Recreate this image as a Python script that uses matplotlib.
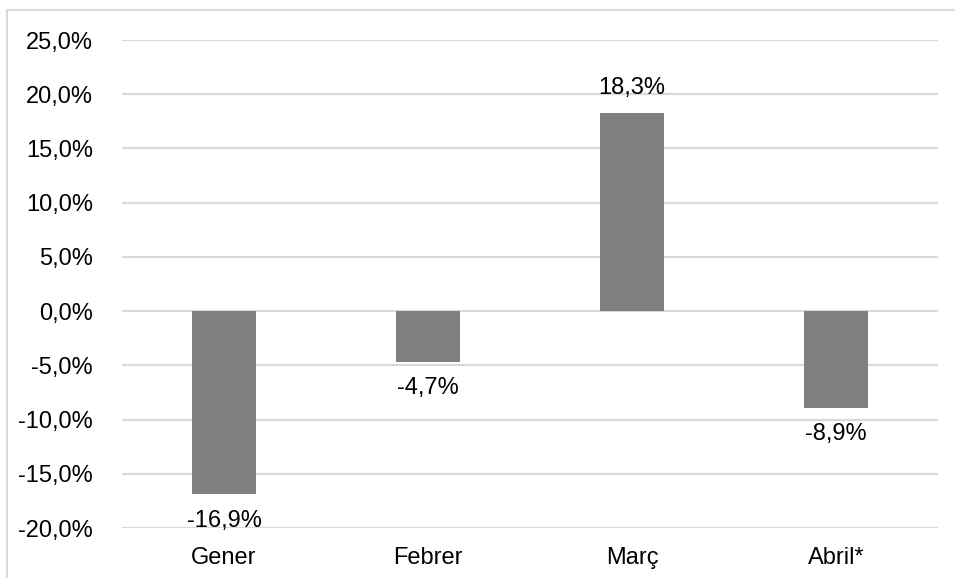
import matplotlib.pyplot as plt
from matplotlib.patches import Rectangle

plt.rcParams['font.family'] = ['Liberation Sans', 'DejaVu Sans']

months = ['Gener', 'Febrer', 'Març', 'Abril*']
changes = [-16.9, -4.7, 18.3, -8.9]
y_ticks = [-20, -15, -10, -5, 0, 5, 10, 15, 20, 25]


def fmt(v):
    return f'{v:.1f}%'.replace('.', ',')


fig = plt.figure(figsize=(9.55, 5.78), dpi=100)
ax = fig.add_axes([122 / 955, 1 - 528 / 578, 816 / 955, 488 / 578])

x = range(len(months))
ax.bar(x, changes, width=0.31, color='#808080', zorder=3)

for xi, v in zip(x, changes):
    off = 9.5 if v > 0 else -11
    va = 'bottom' if v > 0 else 'top'
    ax.annotate(fmt(v), (xi, v), xytext=(0, off), textcoords='offset points',
                ha='center', va=va, fontsize=17, color='#000000', zorder=4)

ax.set_xlim(-0.5, 3.5)
ax.set_ylim(-20, 25)
ax.set_yticks(y_ticks)
ax.set_yticklabels([fmt(t) for t in y_ticks])
ax.set_xticks(list(x))
ax.set_xticklabels(months)
ax.tick_params(axis='y', length=0, pad=21, labelsize=17)
ax.tick_params(axis='x', length=0, pad=14, labelsize=17)
ax.grid(axis='y', color='#d9d9d9', linewidth=1.6, zorder=0)
for s in ax.spines.values():
    s.set_visible(False)

fig.patches.append(Rectangle((7 / 955, -0.1), 1.1, 1.1 - 10 / 578,
                             transform=fig.transFigure, fill=False,
                             edgecolor='#d9d9d9', linewidth=1.5))

fig.savefig('out.png', dpi=100)
